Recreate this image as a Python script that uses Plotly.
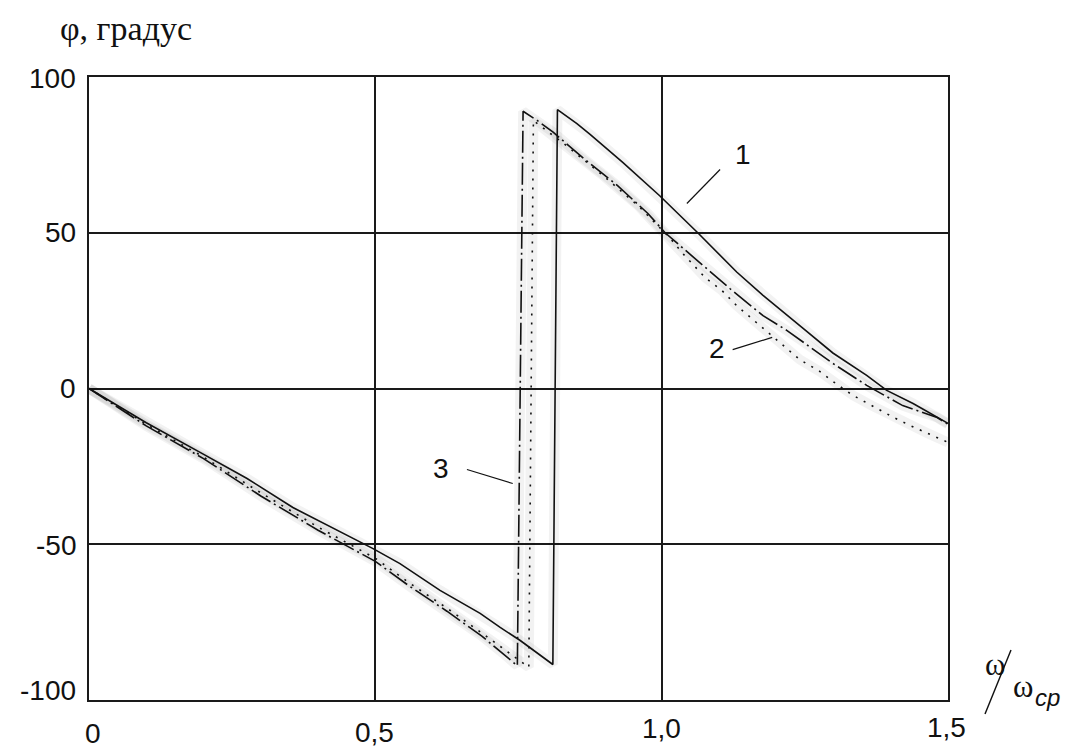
import plotly.graph_objects as go

# --- phase response data: omega/omega_cp vs phase, degrees ---
x_curve1 = [0, 0.1, 0.194, 0.276, 0.356, 0.443, 0.496, 0.543, 0.613, 0.683, 0.718,
            0.753, 0.810, 0.818, 0.852, 0.875, 0.932, 0.997, 1.063, 1.131, 1.177,
            1.247, 1.299, 1.358, 1.393, 1.439, 1.5]
y_curve1 = [0, -11, -20.5, -28.9, -38.2, -46.5, -51.4, -56.2, -64.8, -72.2, -76.7,
            -80.9, -88.6, 89.5, 85.0, 81.6, 72.6, 61.8, 50.0, 37.4, 29.9,
            19.3, 11.4, 4.2, -0.6, -4.8, -11.2]

x_curve2 = [0, 0.1, 0.2, 0.3, 0.4, 0.5, 0.56, 0.625, 0.686, 0.73, 0.768,
            0.776, 0.83, 0.9, 0.96, 1.015, 1.037, 1.076, 1.105, 1.131, 1.172,
            1.241, 1.276, 1.304, 1.334, 1.367, 1.402, 1.434, 1.465, 1.5]
y_curve2 = [0, -11.5, -22, -33.5, -44.5, -54.5, -62.5, -70.5, -78.5, -84.5, -89.5,
            86, 78.5, 68, 58.5, 48.2, 43.3, 35.6, 31.5, 26.6, 20.2,
            9.3, 5.5, 1.6, -2.2, -5.5, -9.0, -11.9, -14.4, -17.3]

x_curve3 = [0, 0.1, 0.2, 0.3, 0.4, 0.5, 0.56, 0.625, 0.686, 0.723, 0.748,
            0.758, 0.783, 0.811, 0.864, 0.923, 0.976, 1.006, 1.063, 1.119, 1.177,
            1.219, 1.297, 1.358, 1.421, 1.481, 1.5]
y_curve3 = [0, -12, -22.5, -34.5, -45.5, -55.5, -63.5, -71.5, -79.5, -85, -89,
            89, 86, 82.2, 73.8, 65.1, 56.2, 50, 41.1, 32.1, 23.4,
            18.6, 8.3, 1.0, -5.5, -9.3, -11.5]

x_ticks = [0, 0.5, 1.0, 1.5]
x_tick_text = ["0", "0,5", "1,0", "1,5"]
y_ticks = [100, 50, 0, -50, -100]
y_tick_text = ["100", "50", "0", "-50", "-100"]

# curve numbers: text anchor and leader line (start, end) in data units
curve_labels = ["1", "2", "3"]
label_pos = [(1.142, 75.1), (1.097, 12.8), (0.615, -25.7)]
leader_lines = [((1.102, 70.3), (1.044, 59.4)),
                ((1.124, 12.5), (1.193, 16.4)),
                ((0.660, -26.0), (0.740, -30.5))]

INK = "#111111"
SANS = "Liberation Sans, Arial, sans-serif"
SERIF = "Liberation Serif, Times New Roman, serif"

fig = go.Figure()

series = [
    (x_curve1, y_curve1, "solid"),
    (x_curve2, y_curve2, "2px,7px"),
    (x_curve3, y_curve3, "22px,4px,2px,4px"),
]
# faint grey halo under each trace
for xs, ys, _ in series:
    fig.add_trace(go.Scatter(x=xs, y=ys, mode="lines", hoverinfo="skip",
                             line=dict(color="rgba(0,0,0,0.05)", width=10)))
for xs, ys, dash in series:
    fig.add_trace(go.Scatter(x=xs, y=ys, mode="lines",
                             line=dict(color=INK, width=1.6, dash=dash)))

axis_common = dict(showgrid=True, gridcolor="#1a1a1a", gridwidth=2,
                   showline=True, linecolor="#1a1a1a", linewidth=2, mirror=True,
                   zeroline=False, showticklabels=False, ticks="")

fig.update_layout(
    width=1066, height=751,
    margin=dict(l=89, r=118, t=77, b=51),
    paper_bgcolor="white", plot_bgcolor="white",
    showlegend=False,
    xaxis=dict(range=[0, 1.5], tickvals=x_ticks, **axis_common),
    yaxis=dict(range=[-100, 100], tickvals=y_ticks, **axis_common),
)

annotations = []
# x tick labels
x_shift = [4, -1, 0, -2]
y_shift = [-33, -32, -28, -27]
for v, t, dx, dy in zip(x_ticks, x_tick_text, x_shift, y_shift):
    annotations.append(dict(x=v, y=-100, xref="x", yref="y", text=t, showarrow=False,
                            xanchor="center", yanchor="middle", xshift=dx, yshift=dy,
                            font=dict(family=SANS, size=28, color=INK)))
# y tick labels
y_lab_shift = [-1, 0, 0, -1, 10]
for v, t, dy in zip(y_ticks, y_tick_text, y_lab_shift):
    annotations.append(dict(x=0, y=v, xref="x", yref="y", text=t, showarrow=False,
                            xanchor="right", yanchor="middle", xshift=-11, yshift=dy,
                            font=dict(family=SANS, size=28, color=INK)))
# curve numbers
for t, (lx, ly) in zip(curve_labels, label_pos):
    annotations.append(dict(x=lx, y=ly, xref="x", yref="y", text=t, showarrow=False,
                            xanchor="center", yanchor="middle",
                            font=dict(family=SANS, size=28, color=INK)))
# axis titles
annotations.append(dict(x=58, y=28, xref="paper", yref="paper", text="φ, градус",
                        showarrow=False, xanchor="left", yanchor="middle",
                        font=dict(family=SERIF, size=34, color=INK)))
annotations.append(dict(x=995, y=664, xref="paper", yref="paper", text="ω",
                        showarrow=False, xanchor="center", yanchor="middle",
                        font=dict(family=SERIF, size=31, color=INK)))
annotations.append(dict(x=1023, y=686, xref="paper", yref="paper", text="ω",
                        showarrow=False, xanchor="center", yanchor="middle",
                        font=dict(family=SERIF, size=31, color=INK)))
annotations.append(dict(x=1033, y=697, xref="paper", yref="paper", text="<i>cp</i>",
                        showarrow=False, xanchor="left", yanchor="middle",
                        font=dict(family=SANS, size=24, color=INK)))

# convert pixel placements of the free-standing titles to paper units
plot_l, plot_r, plot_t, plot_b = 89, 948, 77, 700
for a in annotations:
    if a["xref"] == "paper":
        a["x"] = (a["x"] - plot_l) / (plot_r - plot_l)
        a["y"] = (plot_b - a["y"]) / (plot_b - plot_t)
fig.update_layout(annotations=annotations)

shapes = []
for (x0, y0), (x1, y1) in leader_lines:
    shapes.append(dict(type="line", xref="x", yref="y", x0=x0, y0=y0, x1=x1, y1=y1,
                       line=dict(color=INK, width=1.2)))
# fraction slash of the x-axis title
sx0, sy0, sx1, sy1 = 985, 714, 1011, 650
shapes.append(dict(type="line", xref="paper", yref="paper",
                   x0=(sx0 - plot_l) / (plot_r - plot_l), y0=(plot_b - sy0) / (plot_b - plot_t),
                   x1=(sx1 - plot_l) / (plot_r - plot_l), y1=(plot_b - sy1) / (plot_b - plot_t),
                   line=dict(color=INK, width=1.4)))
fig.update_layout(shapes=shapes)

fig.write_html("out.html")
